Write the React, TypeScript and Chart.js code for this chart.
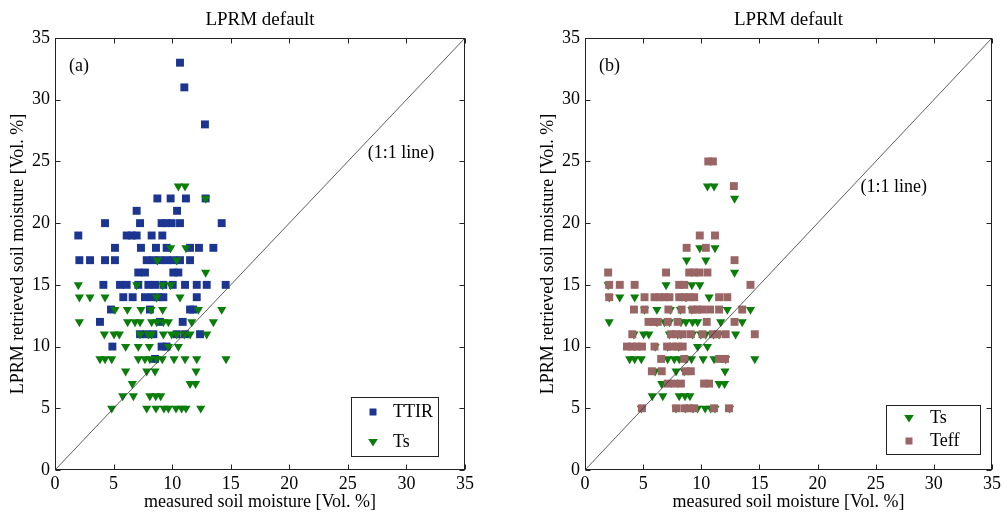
import React, { useEffect, useRef } from "react";
import { Chart, registerables } from "chart.js";
Chart.register(...registerables);

const AXIS_TICKS = [0, 5, 10, 15, 20, 25, 30, 35];
const DIAGONAL = [[0, 0], [35, 35]];
const PANEL_TITLE = "LPRM default";
const X_TITLE = "measured soil moisture [Vol. %]";
const Y_TITLE = "LPRM retrieved soil moisture [Vol. %]";

const ttirPoints = [
  [10.67, 33], [11.04, 31], [12.8, 28],
  [8.74, 22], [9.87, 22], [11.18, 22], [12.86, 22],
  [6.97, 21], [10.42, 21],
  [4.27, 20], [7.26, 20], [9.1, 20], [9.5, 20], [9.96, 20], [10.67, 20], [14.23, 20],
  [1.99, 19], [6.12, 19], [6.55, 19], [6.97, 19], [8.25, 19], [9.16, 19],
  [5.12, 18], [7.34, 18], [8.62, 18], [9.53, 18], [11.53, 18], [12.29, 18], [13.52, 18],
  [2.08, 17], [2.99, 17], [4.27, 17], [5.12, 17], [7.83, 17], [8.4, 17], [8.96, 17], [9.53, 17], [10.1, 17], [10.67, 17], [11.53, 17],
  [7.11, 16], [7.68, 16], [10.1, 16], [10.53, 16],
  [4.13, 15], [5.55, 15], [6.12, 15], [7.11, 15], [7.97, 15], [8.54, 15], [9.25, 15], [10.05, 15], [11.1, 15], [12.1, 15], [12.95, 15], [14.57, 15],
  [5.83, 14], [6.63, 14], [7.68, 14], [8.25, 14], [8.82, 14], [9.25, 14], [12.1, 14],
  [4.78, 13], [8.1, 13], [11.53, 13], [11.8, 13],
  [3.84, 12], [8.96, 12], [10.9, 12],
  [7.26, 11], [7.83, 11], [8.4, 11], [10.39, 11], [11.1, 11], [12.38, 11],
  [4.9, 10], [9.1, 10], [9.53, 10],
  [8.54, 9],
];

const tsPoints = [
  [10.53, 23], [11.1, 23], [12.86, 22],
  [9.87, 18], [11.18, 18],
  [8.74, 17], [10.39, 17],
  [12.86, 16],
  [1.99, 15], [6.97, 15], [9.19, 15], [9.87, 15],
  [2.08, 14], [2.99, 14], [4.27, 14], [8.68, 14], [10.67, 14],
  [5.12, 13], [6.18, 13], [7.34, 13], [8.2, 13], [9.19, 13], [12.24, 13], [14.23, 13],
  [2.08, 12], [6.2, 12], [6.83, 12], [7.26, 12], [8.25, 12], [8.68, 12], [9.25, 12], [9.68, 12], [11.67, 12], [13.52, 12],
  [4.21, 11], [5.04, 11], [5.49, 11], [7.26, 11], [7.97, 11], [8.25, 11], [9.25, 11], [9.96, 11], [10.39, 11], [11.04, 11], [11.53, 11], [12.95, 11],
  [6.03, 10], [7.11, 10], [8.05, 10], [9.68, 10], [10.53, 10],
  [3.84, 9], [4.27, 9], [4.84, 9], [7.11, 9], [7.68, 9], [8.1, 9], [8.68, 9], [9.16, 9], [10.16, 9], [11.1, 9], [12.1, 9], [14.6, 9],
  [6.03, 8], [7.83, 8], [8.54, 8], [12.04, 8],
  [6.6, 7], [11.53, 7], [12.0, 7],
  [5.78, 6], [6.69, 6], [8.1, 6], [8.6, 6], [9.02, 6],
  [4.84, 5], [7.83, 5], [8.62, 5], [9.3, 5], [9.68, 5], [10.33, 5], [10.81, 5], [11.18, 5], [12.44, 5],
];

const teffPoints = [
  [10.6, 25], [11.0, 25], [12.8, 23],
  [9.87, 19], [11.18, 19],
  [8.74, 18], [10.39, 18],
  [12.86, 17],
  [1.99, 16], [6.97, 16], [8.96, 16], [9.39, 16], [9.82, 16], [10.53, 16],
  [2.08, 15], [2.99, 15], [4.27, 15], [8.1, 15], [8.54, 15], [14.23, 15],
  [2.08, 14], [5.12, 14], [5.98, 14], [6.4, 14], [6.83, 14], [7.26, 14], [8.1, 14], [8.54, 14], [8.96, 14], [9.39, 14], [11.53, 14], [12.24, 14],
  [4.21, 13], [5.12, 13], [7.17, 13], [8.31, 13], [9.25, 13], [9.68, 13], [10.1, 13], [10.76, 13], [11.53, 13], [13.52, 13],
  [5.46, 12], [5.89, 12], [6.26, 12], [7.11, 12], [7.97, 12], [10.47, 12], [12.86, 12],
  [4.07, 11], [7.4, 11], [7.83, 11], [8.4, 11], [9.1, 11], [10.1, 11], [11.0, 11], [11.38, 11], [12.1, 11], [14.6, 11],
  [3.61, 10], [4.04, 10], [4.47, 10], [4.9, 10], [5.98, 10], [7.06, 10], [7.54, 10], [7.97, 10], [8.4, 10],
  [6.55, 9], [8.54, 9], [11.53, 9], [12.04, 9],
  [5.75, 8], [6.6, 8], [8.68, 8], [9.1, 8],
  [7.11, 7], [7.68, 7], [8.25, 7], [10.24, 7], [10.67, 7],
  [4.9, 5], [7.83, 5], [8.54, 5], [8.96, 5], [9.39, 5], [11.1, 5], [12.38, 5],
];

const FONT = "'Liberation Serif', 'Times New Roman', serif";
const FS = 18;
const BLUE = "#1c3591";
const GREEN = "#0a7d0a";
const BROWN = "#9a6565";

const toXY = (pts: number[][]) => pts.map(([x, y]) => ({ x, y }));

function drawMarker(ctx: CanvasRenderingContext2D, kind: string, color: string, x: number, y: number) {
  ctx.fillStyle = color;
  if (kind === "rect") {
    ctx.fillRect(x - 3.5, y - 3.5, 7, 7);
  } else {
    ctx.beginPath();
    ctx.moveTo(x - 4.8, y - 3);
    ctx.lineTo(x + 4.8, y - 3);
    ctx.lineTo(x, y + 4.5);
    ctx.closePath();
    ctx.fill();
  }
}

const framePlugin = {
  id: "frame",
  afterDatasetsDraw(chart: any, _args: any, opts: any) {
    const { ctx, chartArea: a, scales } = chart;
    const xs = scales.x;
    const ys = scales.y;
    ctx.save();
    ctx.strokeStyle = "#222";
    ctx.lineWidth = 1;
    const L = Math.round(a.left) + 0.5;
    const R = Math.round(a.right) - 0.5;
    const T = Math.round(a.top) + 0.5;
    const B = Math.round(a.bottom) - 0.5;
    ctx.strokeRect(L, T, R - L, B - T);
    const tl = 5;
    ctx.beginPath();
    AXIS_TICKS.forEach((v) => {
      const px = Math.round(xs.getPixelForValue(v)) + 0.5;
      ctx.moveTo(px, B); ctx.lineTo(px, B - tl);
      ctx.moveTo(px, T); ctx.lineTo(px, T + tl);
      const py = Math.round(ys.getPixelForValue(v)) + 0.5;
      ctx.moveTo(L, py); ctx.lineTo(L + tl, py);
      ctx.moveTo(R, py); ctx.lineTo(R - tl, py);
    });
    ctx.stroke();

    ctx.fillStyle = "#000";
    ctx.font = `${FS}px ${FONT}`;
    ctx.textBaseline = "middle";
    ctx.textAlign = "left";
    (opts.notes || []).forEach((n: any) => {
      ctx.fillText(n.text, xs.getPixelForValue(n.x), ys.getPixelForValue(n.y));
    });

    const lg = opts.legend;
    if (lg) {
      const bx = a.right - lg.right - lg.width;
      const by = a.bottom - lg.bottom - lg.height;
      ctx.fillStyle = "#fff";
      ctx.fillRect(bx, by, lg.width, lg.height);
      ctx.strokeStyle = "#222";
      ctx.strokeRect(Math.round(bx) + 0.5, Math.round(by) + 0.5, lg.width, lg.height);
      lg.items.forEach((it: any, i: number) => {
        const cy = by + lg.firstY + i * lg.step;
        drawMarker(ctx, it.kind, it.color, bx + lg.markerX, cy);
        ctx.fillStyle = "#000";
        ctx.fillText(it.label, bx + lg.textX, cy);
      });
    }
    ctx.restore();
  },
};

function buildConfig(panel: "a" | "b"): any {
  const isA = panel === "a";
  const markerSets = isA
    ? [
        { label: "TTIR", data: toXY(ttirPoints), pointStyle: "rect", pointRadius: 5.6, rotation: 0, color: BLUE, order: 2 },
        { label: "Ts", data: toXY(tsPoints), pointStyle: "triangle", pointRadius: 5.3, rotation: 180, color: GREEN, order: 1 },
      ]
    : [
        { label: "Ts", data: toXY(tsPoints), pointStyle: "triangle", pointRadius: 5.3, rotation: 180, color: GREEN, order: 2 },
        { label: "Teff", data: toXY(teffPoints), pointStyle: "rect", pointRadius: 5.6, rotation: 0, color: BROWN, order: 1 },
      ];
  const datasets: any[] = markerSets.map((s) => ({
    label: s.label,
    data: s.data,
    pointStyle: s.pointStyle,
    pointRadius: s.pointRadius,
    rotation: s.rotation,
    backgroundColor: s.color,
    borderColor: s.color,
    borderWidth: 0,
    order: s.order,
  }));
  datasets.push({
    label: "1:1",
    data: toXY(DIAGONAL),
    showLine: true,
    pointRadius: 0,
    borderColor: "#333",
    borderWidth: 0.8,
    order: 0,
  });
  const tickFont = { family: FONT, size: FS };
  return {
    type: "scatter",
    data: { datasets },
    options: {
      animation: false,
      responsive: false,
      events: [],
      layout: { padding: isA ? { left: 0, right: 37, top: 0, bottom: 0 } : { left: 28, right: 9, top: 0, bottom: 0 } },
      plugins: {
        legend: { display: false },
        tooltip: { enabled: false },
        title: {
          display: true,
          text: PANEL_TITLE,
          fullSize: false,
          color: "#000",
          font: { family: FONT, size: 19, weight: "normal", lineHeight: 1.2 },
          padding: { top: 9, bottom: 6.2 },
        },
        frame: {
          notes: isA
            ? [
                { text: "(a)", x: 1.2, y: 32.7 },
                { text: "(1:1 line)", x: 26.7, y: 25.7 },
              ]
            : [
                { text: "(b)", x: 1.2, y: 32.7 },
                { text: "(1:1 line)", x: 23.7, y: 22.9 },
              ],
          legend: isA
            ? {
                right: 27, bottom: 14, width: 87, height: 59, firstY: 15, step: 30, markerX: 22, textX: 42,
                items: [
                  { label: "TTIR", kind: "rect", color: BLUE },
                  { label: "Ts", kind: "tri", color: GREEN },
                ],
              }
            : {
                right: 12, bottom: 16, width: 94, height: 49, firstY: 13, step: 23, markerX: 23, textX: 44,
                items: [
                  { label: "Ts", kind: "tri", color: GREEN },
                  { label: "Teff", kind: "rect", color: BROWN },
                ],
              },
        },
      },
      scales: {
        x: {
          type: "linear",
          min: 0,
          max: 35,
          afterFit: (s: any) => { s.height = 43; },
          afterBuildTicks: (s: any) => { s.ticks = AXIS_TICKS.map((v) => ({ value: v })); },
          grid: { display: false, drawTicks: false },
          border: { display: false },
          ticks: { color: "#000", font: tickFont, padding: 3, maxRotation: 0 },
          title: { display: true, text: X_TITLE, color: "#000", font: tickFont, padding: { top: 0, bottom: 0 } },
        },
        y: {
          type: "linear",
          min: 0,
          max: 35,
          afterFit: (s: any) => { s.width = 55; },
          afterBuildTicks: (s: any) => { s.ticks = AXIS_TICKS.map((v) => ({ value: v })); },
          grid: { display: false, drawTicks: false },
          border: { display: false },
          ticks: { color: "#000", font: tickFont, padding: 5 },
          title: { display: true, text: Y_TITLE, color: "#000", font: tickFont, padding: { top: 7, bottom: 0 } },
        },
      },
    },
    plugins: [framePlugin],
  };
}

function Panel({ panel, left }: { panel: "a" | "b"; left: number }) {
  const ref = useRef<HTMLCanvasElement | null>(null);
  useEffect(() => {
    if (!ref.current) return;
    const chart = new Chart(ref.current, buildConfig(panel));
    return () => chart.destroy();
  }, [panel]);
  return (
    <canvas
      ref={ref}
      width={502}
      height={513}
      style={{ position: "absolute", left, top: 0, width: 502, height: 513 }}
    />
  );
}

export default function App() {
  return (
    <div style={{ position: "fixed", left: 0, top: 0, width: 1004, height: 513, background: "#fff" }}>
      <Panel panel="a" left={0} />
      <Panel panel="b" left={502} />
    </div>
  );
}
